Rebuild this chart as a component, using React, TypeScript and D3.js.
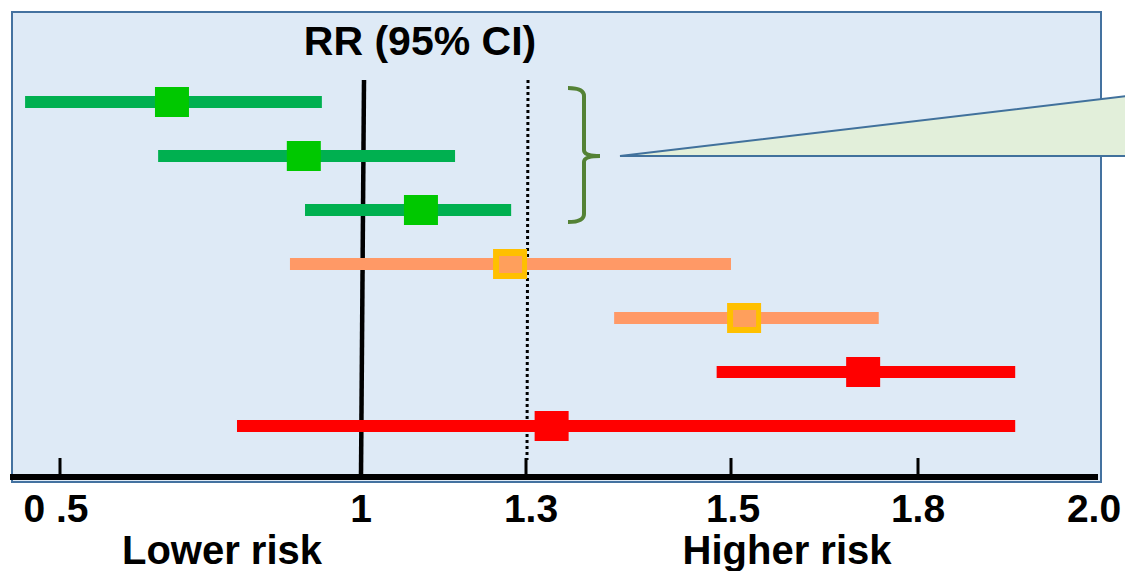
import React, { useEffect, useRef } from "react";
import * as d3 from "d3";

// tick values on the RR axis (the axis is not evenly spaced)
const ticks = [0.5, 1, 1.3, 1.5, 1.8, 2.0];
const tickLabels = ["0 .5", "1", "1.3", "1.5", "1.8", "2.0"];
const tickPx = [60, 361, 526, 731, 918, 1098];

const rows = ["a", "b", "c", "d", "e", "f", "g"];
const rr = [0.686, 0.905, 1.109, 1.271, 1.521, 1.712, 1.325];
const lower = [0.442, 0.663, 0.907, 0.882, 1.386, 1.486, 0.794];
const upper = [0.935, 1.171, 1.273, 1.5, 1.737, 1.908, 1.908];
const group = ["green", "green", "green", "orange", "orange", "red", "red"];

const lineColor: Record<string, string> = { green: "#00B050", orange: "#FF9966", red: "#FF0000" };
const boxColor: Record<string, string> = { green: "#00C800", orange: "#FFC000", red: "#FF0000" };

const App = () => {
  const svgRef = useRef<SVGSVGElement>(null);

  useEffect(() => {
    const width = 1125;
    const height = 571;
    const svg = d3.select(svgRef.current).attr("width", width).attr("height", height);
    svg.selectAll("*").remove();

    const x = d3.scaleLinear().domain(ticks).range(tickPx);
    const y = d3.scalePoint().domain(rows).range([102, 426]);
    const font = "Liberation Sans, Arial, sans-serif";

    // panel
    svg
      .append("rect")
      .attr("x", 12)
      .attr("y", 12)
      .attr("width", 1089)
      .attr("height", 470)
      .attr("fill", "#DEEAF6")
      .attr("stroke", "#4472A0")
      .attr("stroke-width", 2);

    // reference lines
    svg
      .append("line")
      .attr("x1", x(1) + 3)
      .attr("x2", x(1))
      .attr("y1", 80)
      .attr("y2", 476)
      .attr("stroke", "#000")
      .attr("stroke-width", 4.5);

    svg
      .append("line")
      .attr("x1", x(1.3) + 2)
      .attr("x2", x(1.3) + 1)
      .attr("y1", 80)
      .attr("y2", 460)
      .attr("stroke", "#000")
      .attr("stroke-width", 3)
      .attr("stroke-dasharray", "3,3");

    // CI bars
    const g = svg.append("g");
    rows.forEach((r, i) => {
      const cy = y(r)!;
      g.append("rect")
        .attr("x", x(lower[i]))
        .attr("y", cy - 6)
        .attr("width", x(upper[i]) - x(lower[i]))
        .attr("height", 12)
        .attr("fill", lineColor[group[i]]);
      const cx = x(rr[i]);
      g.append("rect")
        .attr("x", cx - 17)
        .attr("y", cy - 15)
        .attr("width", 34)
        .attr("height", 30)
        .attr("fill", boxColor[group[i]]);
      if (group[i] === "orange") {
        g.append("rect")
          .attr("x", cx - 11)
          .attr("y", cy - 8)
          .attr("width", 23)
          .attr("height", 17)
          .attr("fill", "#FF9F5C");
      }
    });

    // axis
    svg
      .append("line")
      .attr("x1", 10)
      .attr("x2", x(2.0))
      .attr("y1", 477)
      .attr("y2", 477)
      .attr("stroke", "#000")
      .attr("stroke-width", 6);

    ticks
      .filter((t) => t !== 1 && t !== 2.0)
      .forEach((t) => {
        svg
          .append("line")
          .attr("x1", x(t))
          .attr("x2", x(t))
          .attr("y1", 458)
          .attr("y2", 477)
          .attr("stroke", "#000")
          .attr("stroke-width", 3);
      });

    const labelOffset = [-4, 0, 5, 2, 0, -4];
    ticks.forEach((t, i) => {
      svg
        .append("text")
        .attr("x", x(t) + labelOffset[i])
        .attr("y", 522)
        .attr("text-anchor", "middle")
        .style("font-family", font)
        .style("font-weight", "bold")
        .style("font-size", "39px")
        .text(tickLabels[i]);
    });

    svg
      .append("text")
      .attr("x", 222)
      .attr("y", 564)
      .attr("text-anchor", "middle")
      .style("font-family", font)
      .style("font-weight", "bold")
      .style("font-size", "40px")
      .text("Lower risk");

    svg
      .append("text")
      .attr("x", 787)
      .attr("y", 564)
      .attr("text-anchor", "middle")
      .style("font-family", font)
      .style("font-weight", "bold")
      .style("font-size", "40px")
      .text("Higher risk");

    svg
      .append("text")
      .attr("x", 420)
      .attr("y", 55)
      .attr("text-anchor", "middle")
      .style("font-family", font)
      .style("font-weight", "bold")
      .style("font-size", "41px")
      .text("RR (95% CI)");

    // brace around the green rows
    const top = y(rows[0])! - 14;
    const bot = y(rows[2])! + 12;
    const mid = (top + bot) / 2 + 1;
    const bx = 584;
    svg
      .append("path")
      .attr(
        "d",
        `M${bx - 16},${top} Q${bx},${top} ${bx},${top + 8} L${bx},${mid - 6} Q${bx},${mid} ${bx + 16},${mid} ` +
          `M${bx + 16},${mid} Q${bx},${mid} ${bx},${mid + 6} L${bx},${bot - 8} Q${bx},${bot} ${bx - 16},${bot}`
      )
      .attr("fill", "none")
      .attr("stroke", "#548235")
      .attr("stroke-width", 4);

    // callout wedge
    svg
      .append("path")
      .attr("d", `M620,${mid} L1127,96 L1127,${mid} Z`)
      .attr("fill", "#E2EFDA")
      .attr("stroke", "#41719C")
      .attr("stroke-width", 2);
  }, []);

  return <svg ref={svgRef} style={{ position: "absolute", left: 0, top: 0 }}></svg>;
};

export default App;
